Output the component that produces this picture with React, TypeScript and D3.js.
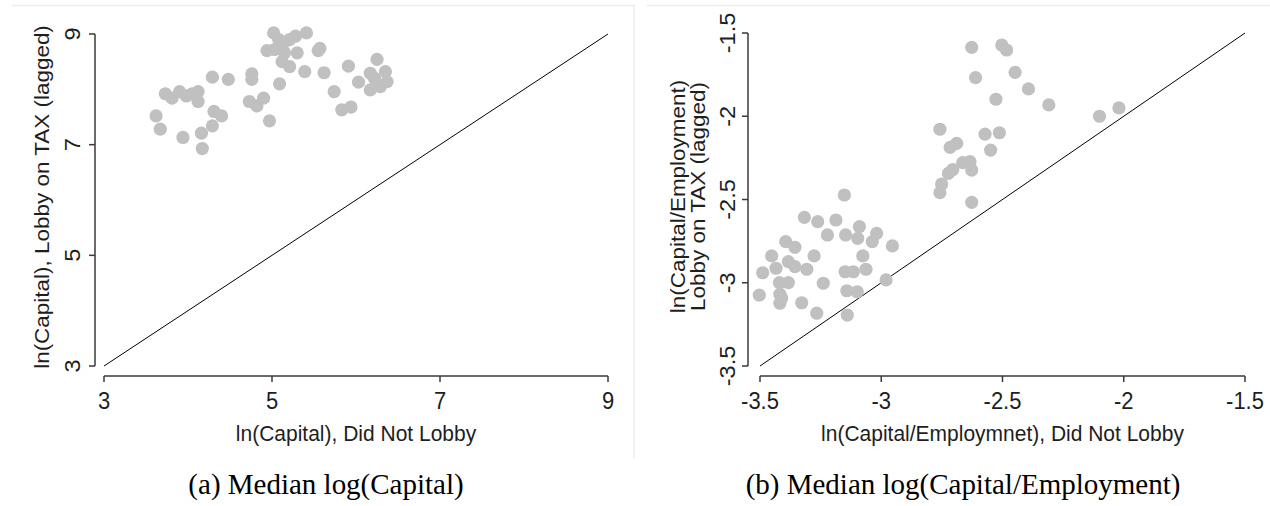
import React from "react";
import * as d3 from "d3";

// Panel (a): median log capital, non-lobbying vs lobbying (lagged) firms
const capNoLobby = [
  3.62, 3.67, 3.73, 3.81, 3.90, 3.98, 4.05, 4.12, 4.12, 3.94, 4.16, 4.17, 4.29, 4.31, 4.40,
  4.29, 4.48, 4.76, 4.76, 4.73, 4.82, 4.90, 4.97, 5.09, 5.02, 5.08, 5.14, 5.21, 5.28, 5.41,
  4.94, 5.03, 5.15, 5.30, 5.12, 5.21, 5.39, 5.55, 5.57, 5.62, 5.74, 5.83, 5.94, 5.91, 6.03,
  6.25, 6.17, 6.17, 6.35, 6.37, 6.29, 6.22,
];
const capLobby = [
  7.52, 7.28, 7.92, 7.84, 7.96, 7.88, 7.92, 7.96, 7.78, 7.13, 7.21, 6.93, 7.34, 7.60, 7.52,
  8.22, 8.18, 8.28, 8.18, 7.78, 7.70, 7.84, 7.43, 8.10, 9.02, 8.90, 8.84, 8.90, 8.96, 9.02,
  8.70, 8.72, 8.66, 8.66, 8.50, 8.41, 8.32, 8.70, 8.74, 8.30, 7.96, 7.63, 7.68, 8.42, 8.13,
  8.54, 8.29, 7.99, 8.32, 8.14, 8.05, 8.20,
];

// Panel (b): median log capital per employee
const kpeNoLobby = [
  -2.627, -2.503, -2.483, -2.611, -2.448, -2.393, -2.527, -2.309, -2.10, -2.02,
  -2.758, -2.572, -2.513, -2.549, -2.716, -2.689, -2.664, -2.634, -2.627, -2.723, -2.705,
  -2.751, -2.758, -2.627, -3.152,
  -3.317, -3.262, -3.187, -3.090, -3.222, -3.147, -3.097, -3.019, -3.037, -2.954, -3.394,
  -3.356, -3.452, -3.277, -3.076, -3.383, -3.356, -3.434, -3.489, -3.307, -3.149, -3.115,
  -3.063, -3.420, -3.383, -3.239, -2.980, -3.418, -3.411, -3.418, -3.503, -3.328, -3.142,
  -3.099, -3.266, -3.140,
];
const kpeLobby = [
  -1.586, -1.572, -1.602, -1.768, -1.736, -1.836, -1.898, -1.932, -2.0, -1.95,
  -2.078, -2.107, -2.099, -2.203, -2.187, -2.163, -2.279, -2.273, -2.323, -2.343, -2.32,
  -2.407, -2.459, -2.517, -2.473,
  -2.607, -2.633, -2.623, -2.663, -2.713, -2.713, -2.733, -2.703, -2.753, -2.779, -2.753,
  -2.787, -2.839, -2.839, -2.839, -2.873, -2.903, -2.913, -2.940, -2.919, -2.934, -2.934,
  -2.919, -2.999, -2.999, -3.003, -2.983, -3.068, -3.093, -3.123, -3.074, -3.120, -3.048,
  -3.054, -3.183, -3.194,
];

const capTicks = [3, 5, 7, 9];
const kpeTicks = [-3.5, -3, -2.5, -2, -1.5];

const SANS = "'Liberation Sans', Arial, sans-serif";
const SERIF = "'Liberation Serif', 'Times New Roman', serif";
// glyphs in this figure are drawn slightly taller than wide
const STRETCH = 1.07;

type PanelProps = {
  xs: number[];
  ys: number[];
  domain: [number, number];
  ticks: number[];
  xRange: [number, number];
  yRange: [number, number];
  yAxisX: number;
  xAxisY: number;
  yTickX: number;
  yTitle: string[];
  yTitleX: number[];
  xTitle: string;
};

function Panel(p: PanelProps) {
  const x = d3.scaleLinear().domain(p.domain).range(p.xRange);
  const y = d3.scaleLinear().domain(p.domain).range(p.yRange);
  const axisColor = "#3a3a3a";
  const textColor = "#1e1e1e";
  const fmt = (v: number) => String(v);
  const yMid = (p.yRange[0] + p.yRange[1]) / 2;
  const xMid = (p.xRange[0] + p.xRange[1]) / 2;
  return (
    <g>
      {/* 45-degree reference line */}
      <line
        x1={x(p.domain[0])}
        y1={y(p.domain[0])}
        x2={x(p.domain[1])}
        y2={y(p.domain[1])}
        stroke="#000"
        strokeWidth={1}
      />
      {p.xs.map((v, i) => (
        <circle key={i} cx={x(v)} cy={y(p.ys[i])} r={6.6} fill="#c0c0c0" />
      ))}
      {/* y axis */}
      <line x1={p.yAxisX} x2={p.yAxisX} y1={y(p.domain[0])} y2={y(p.domain[1])} stroke={axisColor} strokeWidth={1.5} />
      {p.ticks.map((t) => (
        <g key={"y" + t}>
          <line x1={p.yAxisX - 6} x2={p.yAxisX} y1={y(t)} y2={y(t)} stroke={axisColor} strokeWidth={1.5} />
          <text
            transform={`translate(${p.yTickX},${y(t)}) rotate(-90) scale(${STRETCH},1)`}
            textAnchor="middle"
            dy="0.36em"
            fontSize={22}
            fontFamily={SANS}
            fill={textColor}
          >
            {fmt(t)}
          </text>
        </g>
      ))}
      {/* x axis */}
      <line x1={x(p.domain[0])} x2={x(p.domain[1])} y1={p.xAxisY} y2={p.xAxisY} stroke={axisColor} strokeWidth={1.5} />
      {p.ticks.map((t) => (
        <g key={"x" + t}>
          <line x1={x(t)} x2={x(t)} y1={p.xAxisY} y2={p.xAxisY + 6} stroke={axisColor} strokeWidth={1.5} />
          <text
            transform={`translate(${x(t)},${p.xAxisY + 33}) scale(1,${STRETCH})`}
            textAnchor="middle"
            fontSize={22}
            fontFamily={SANS}
            fill={textColor}
          >
            {fmt(t)}
          </text>
        </g>
      ))}
      <text
        transform={`translate(${xMid},${p.xAxisY + 65}) scale(1,${STRETCH})`}
        textAnchor="middle"
        fontSize={21}
        fontFamily={SANS}
        fill={textColor}
      >
        {p.xTitle}
      </text>
      {p.yTitle.map((s, i) => (
        <text
          key={s}
          transform={`translate(${p.yTitleX[i]},${yMid - 3}) rotate(-90) scale(${STRETCH},1)`}
          textAnchor="middle"
          dy="0.36em"
          fontSize={21}
          fontFamily={SANS}
          fill={textColor}
        >
          {s}
        </text>
      ))}
    </g>
  );
}

export default function App() {
  const frame = "#e9eef2";
  return (
    <svg
      width={1270}
      height={506}
      style={{ position: "absolute", left: 0, top: 0, background: "#fff" }}
    >
      {/* panel frames */}
      <line x1={12} x2={634} y1={5.5} y2={5.5} stroke={frame} strokeWidth={1.5} />
      <line x1={634} x2={634} y1={5} y2={458} stroke={frame} strokeWidth={1.5} />
      <line x1={647} x2={1270} y1={5.5} y2={5.5} stroke={frame} strokeWidth={1.5} />

      <Panel
        xs={capNoLobby}
        ys={capLobby}
        domain={[3, 9]}
        ticks={capTicks}
        xRange={[104, 608]}
        yRange={[366, 34]}
        yAxisX={95}
        xAxisY={376}
        yTickX={72}
        yTitle={["ln(Capital), Lobby on TAX (lagged)"]}
        yTitleX={[41]}
        xTitle="ln(Capital), Did Not Lobby"
      />
      <Panel
        xs={kpeNoLobby}
        ys={kpeLobby}
        domain={[-3.5, -1.5]}
        ticks={kpeTicks}
        xRange={[760, 1245]}
        yRange={[366, 33]}
        yAxisX={748}
        xAxisY={376}
        yTickX={727}
        yTitle={["ln(Capital/Employment)", "Lobby on TAX (lagged)"]}
        yTitleX={[677, 697]}
        xTitle="ln(Capital/Employmnet), Did Not Lobby"
      />

      <text
        transform={`translate(326,494) scale(1,1.05)`}
        textAnchor="middle"
        fontSize={29}
        fontFamily={SERIF}
        fill="#000"
      >
        (a) Median log(Capital)
      </text>
      <text
        transform={`translate(963,494) scale(1,1.05)`}
        textAnchor="middle"
        fontSize={29}
        fontFamily={SERIF}
        fill="#000"
      >
        (b) Median log(Capital/Employment)
      </text>
    </svg>
  );
}
